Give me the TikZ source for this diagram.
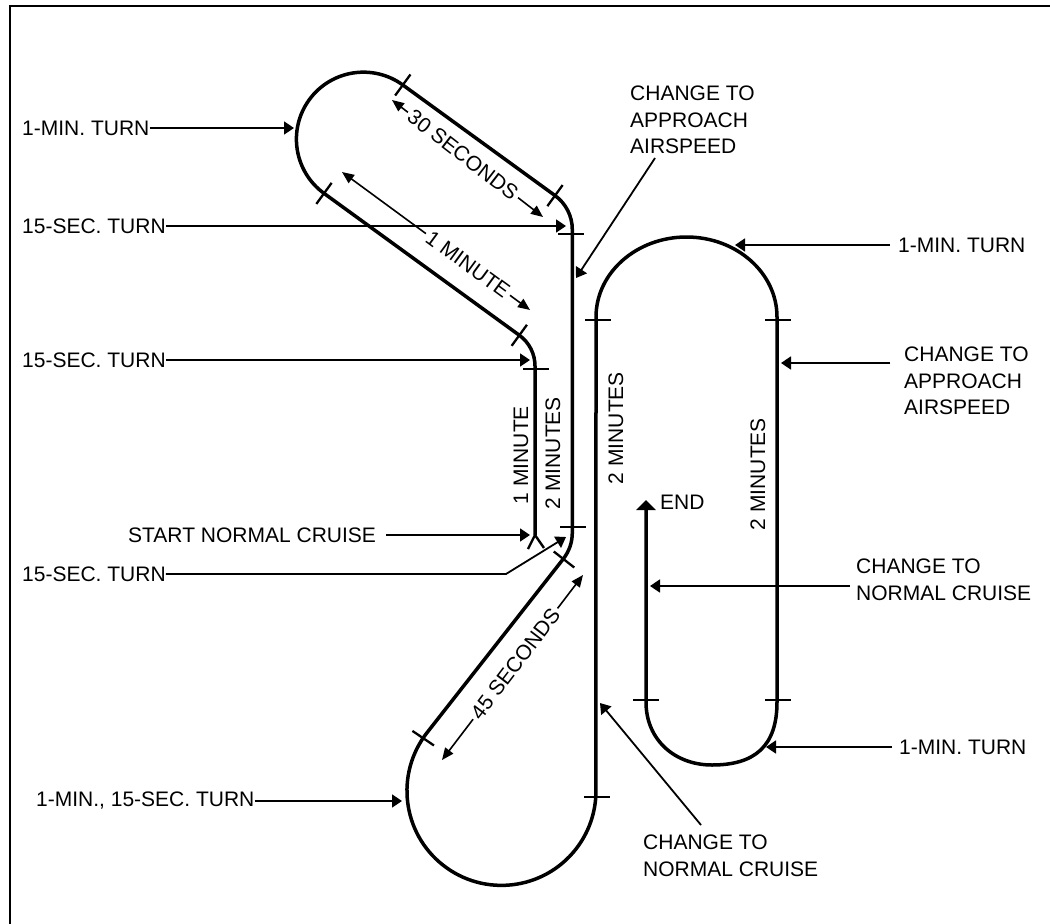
\documentclass[tikz,border=0pt]{standalone}
\usepackage{fontspec}
\setmainfont{Liberation Sans}
\usetikzlibrary{arrows.meta}
\newcommand\lblfont{\fontsize{21}{26.4}\selectfont}
\begin{document}
\begin{tikzpicture}[x=1pt,y=-1pt,
  flight/.style={line width=3.5pt, line join=round},
  lead/.style={line width=1.8pt, -{Triangle[width=13pt,length=10pt]}},
  dim/.style={line width=1.6pt, {Triangle[width=10pt,length=12pt]}-{Triangle[width=10pt,length=12pt]}},
  lbl/.style={font=\lblfont, inner sep=0pt},
  mlbl/.style={font=\lblfont, inner sep=0pt, align=left, anchor=north west},
  dimlbl/.style={font=\lblfont, fill=white, inner sep=3pt, sloped},
  vlbl/.style={font=\lblfont, inner sep=0pt, rotate=90},
  tickmark/.style={fill=black, inner sep=0pt, minimum width=26pt, minimum height=2.3pt}]
\useasboundingbox (0,0) rectangle (1050,924);
% frame (left and top edges)
\draw[line width=2pt] (10,924) -- (10,6) -- (1050,6);

% flight path
\draw[flight, -{Triangle[width=19pt,length=10pt]}] (535,535) -- ++(270:169)
  arc[start angle=0, end angle=-54, radius=38]
  -- ++(216:241.4)
  arc[start angle=126, end angle=306, radius=67]
  -- ++(36:188.1)
  arc[start angle=-54, end angle=0, radius=42]
  -- ++(90:303.4)
  arc[start angle=0, end angle=38.1, radius=42]
  -- ++(128.1:220.8)
  arc[start angle=218.1, end angle=0, radius=94.5]
  -- (596,317)
  arc[start angle=180, end angle=360, x radius=90.5, y radius=80]
  -- (777,702)
  .. controls (777,746) and (755,765) .. (712,765)
  .. controls (675,765) and (646,740) .. (646,702)
  -- (646,500);
% start fork
\draw[line width=2.4pt, line join=round] (528,549) -- (535,535) -- (544,548);

% tick marks
\node[tickmark, rotate=-126] (k1) at (402.8,85) {};
\node[tickmark, rotate=-126] (k2) at (324,193.4) {};
\node[tickmark, rotate=-126] (k3) at (555,195.6) {};
\node[tickmark, rotate=-126] (k4) at (519.3,335.3) {};
\node[tickmark] (k5) at (536,369) {};
\node[tickmark] (k6) at (571,234) {};
\node[tickmark] (k7) at (572.5,527) {};
\node[tickmark, rotate=-38] (k8) at (564,559.5) {};
\node[tickmark, rotate=-34] (k9) at (423.2,738.2) {};
\node[tickmark] (k10) at (597,797) {};
\node[tickmark] (k11) at (597.5,320) {};
\node[tickmark] (k12) at (777.5,320) {};
\node[tickmark] (k13) at (777.5,700) {};
\node[tickmark] (k14) at (645.5,700) {};

% dimension labels
\coordinate (d30a) at (392,100); \coordinate (d30b) at (543,217);
\draw[dim] (d30a) -- node[dimlbl, pos=0.47] (t30) {30 SECONDS} (d30b);
\coordinate (d1a) at (342,172); \coordinate (d1b) at (530,310);
\draw[dim] (d1a) -- node[dimlbl, pos=0.67] (t1m) {1 MINUTE} (d1b);
\coordinate (d45a) at (442,760); \coordinate (d45b) at (583,575);
\draw[dim] (d45a) -- node[dimlbl, pos=0.52] (t45) {45 SECONDS} (d45b);

% vertical labels
\node[vlbl] (v1) at (521,455) {1 MINUTE};
\node[vlbl] (v2) at (553,453) {2 MINUTES};
\node[vlbl] (v3) at (616,428) {2 MINUTES};
\node[vlbl] (v4) at (758,474) {2 MINUTES};

% left labels
\node[lbl, anchor=west] (L1) at (22,128) {1-MIN. TURN};
\coordinate (p1) at (294,128);
\draw[lead] (L1) -- (p1);
\node[lbl, anchor=west] (L2) at (22,226) {15-SEC. TURN};
\coordinate (p2) at (566,226);
\draw[lead] (L2) -- (p2);
\node[lbl, anchor=west] (L3) at (22,360) {15-SEC. TURN};
\coordinate (p3) at (530,360);
\draw[lead] (L3) -- (p3);
\node[lbl, anchor=west] (L4) at (128,535) {START NORMAL CRUISE};
\coordinate (p4) at (530,535);
\draw[lead, shorten <=10pt] (L4) -- (p4);
\node[lbl, anchor=west] (L5) at (22,574) {15-SEC. TURN};
\coordinate (b5) at (506,574); \coordinate (p5) at (566,537);
\draw[lead] (L5) -- (b5) -- (p5);
\node[lbl, anchor=west] (L6) at (36,801) {1-MIN., 15-SEC. TURN};
\coordinate (p6) at (402,801);
\draw[lead] (L6) -- (p6);

% top middle label
\node[mlbl] (T1) at (630,86) {CHANGE TO\\APPROACH\\AIRSPEED};
\coordinate (p7) at (576,278);
\draw[lead] ([shift={(25,4)}]T1.south west) -- (p7);

% right labels
\node[lbl, anchor=west] (R1) at (898,245) {1-MIN. TURN};
\coordinate (p8) at (735,245);
\draw[lead, shorten <=8pt] (R1) -- (p8);
\node[mlbl] (R2) at (904,347) {CHANGE TO\\APPROACH\\AIRSPEED};
\coordinate (p9) at (781,363);
\draw[lead] ([shift={(-14,16)}]R2.north west) -- (p9);
\node[mlbl] (R3) at (856,559) {CHANGE TO\\NORMAL CRUISE};
\coordinate (p10) at (650,586);
\draw[lead] ([shift={(-6,27)}]R3.north west) -- (p10);
\node[lbl, anchor=west] (R4) at (899,747) {1-MIN. TURN};
\coordinate (p11) at (766,747);
\draw[lead, shorten <=7pt] (R4) -- (p11);

% bottom label
\node[mlbl] (B1) at (643,835) {CHANGE TO\\NORMAL CRUISE};
\coordinate (p12) at (600,703);
\draw[lead] ([shift={(58,-10)}]B1.north west) -- (p12);

% end label
\node[lbl, anchor=west] (endl) at (660,502) {END};
\end{tikzpicture}
\end{document}
